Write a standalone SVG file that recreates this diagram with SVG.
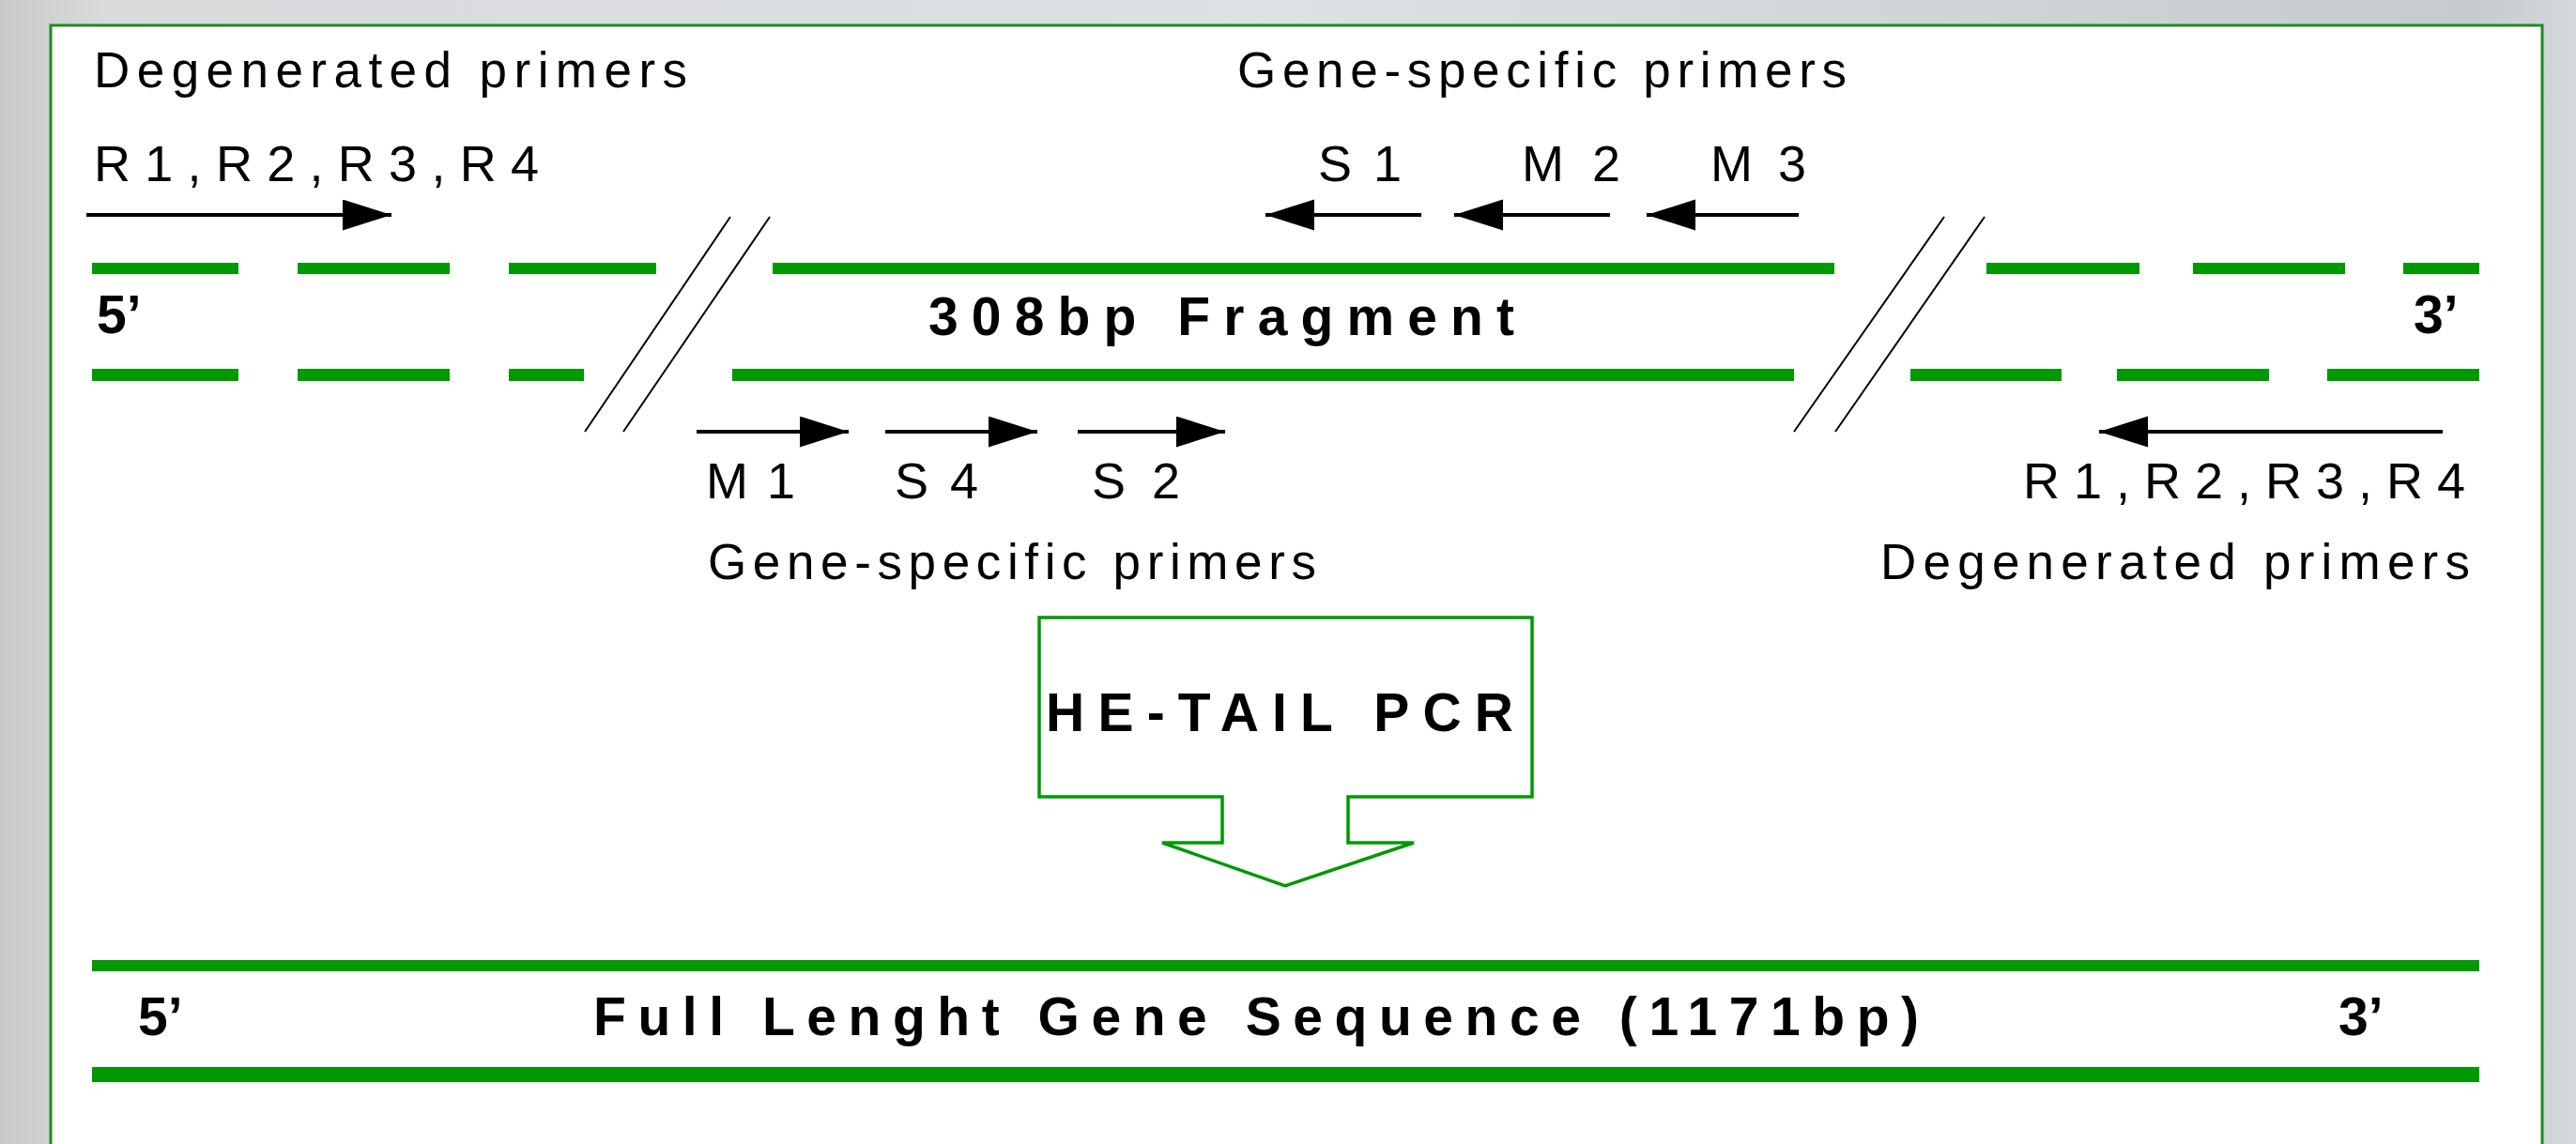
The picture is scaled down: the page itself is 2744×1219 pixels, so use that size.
<svg xmlns="http://www.w3.org/2000/svg" width="2744" height="1219" viewBox="0 0 2744 1219">
<defs>
<linearGradient id="bg" x1="0" y1="0" x2="1" y2="0">
<stop offset="0" stop-color="#c9c9c9"/>
<stop offset="0.04" stop-color="#d8dadc"/>
<stop offset="0.5" stop-color="#dde0e4"/>
<stop offset="0.96" stop-color="#c6cbd0"/>
<stop offset="1" stop-color="#d4d8dc"/>
</linearGradient>
<marker id="ah" markerUnits="userSpaceOnUse" markerWidth="54" markerHeight="34" refX="52" refY="16.5" orient="auto">
<path d="M0,0 L52,16.5 L0,33 Z" fill="#000"/>
</marker>
<style>
.t{font-family:"Liberation Sans",Arial,sans-serif;fill:#000}
.r{font-size:53px}
.l{font-size:54px}
.b{font-size:57px;font-weight:bold}
.g{fill:#009900}
.sl{stroke:#000;stroke-width:2;fill:none}
.pr{stroke:#000;stroke-width:4;fill:none;marker-end:url(#ah)}
</style>
</defs>
<rect x="0" y="0" width="2744" height="1219" fill="url(#bg)"/>
<rect x="54" y="27" width="2654" height="1260" fill="#fff" stroke="#1e8c1e" stroke-width="3"/>

<g id="fragment-strand">
<rect class="g" x="98" y="280" width="156" height="12"/>
<rect class="g" x="317" y="280" width="162" height="12"/>
<rect class="g" x="542" y="280" width="157" height="12"/>
<rect class="g" x="823" y="280" width="1131" height="12"/>
<rect class="g" x="2116" y="280" width="163" height="12"/>
<rect class="g" x="2336" y="280" width="162" height="12"/>
<rect class="g" x="2560" y="280" width="81" height="12"/>
<rect class="g" x="98" y="393" width="156" height="13"/>
<rect class="g" x="317" y="393" width="162" height="13"/>
<rect class="g" x="542" y="393" width="80" height="13"/>
<rect class="g" x="780" y="393" width="1131" height="13"/>
<rect class="g" x="2035" y="393" width="161" height="13"/>
<rect class="g" x="2255" y="393" width="162" height="13"/>
<rect class="g" x="2479" y="393" width="162" height="13"/>
<line class="sl" x1="778" y1="231" x2="623" y2="460"/>
<line class="sl" x1="820" y1="231" x2="664" y2="460"/>
<line class="sl" x1="2071" y1="231" x2="1911" y2="460"/>
<line class="sl" x1="2114" y1="231" x2="1955" y2="460"/>
<text class="t b" x="103" y="355">5’</text>
<text class="t b" x="2571" y="355">3’</text>
<text class="t b" x="989" y="357" textLength="624" lengthAdjust="spacing">308bp Fragment</text>
</g>

<g id="labels-top">
<text class="t r" x="100" y="93" textLength="632" lengthAdjust="spacing">Degenerated primers</text>
<text class="t l" x="100" y="193" textLength="474" lengthAdjust="spacing">R1,R2,R3,R4</text>
<text class="t r" x="1318" y="93" textLength="649" lengthAdjust="spacing">Gene-specific primers</text>
<text class="t l" x="1404" y="193" textLength="89" lengthAdjust="spacing">S1</text>
<text class="t l" x="1621" y="193" textLength="105" lengthAdjust="spacing">M2</text>
<text class="t l" x="1822" y="193" textLength="102" lengthAdjust="spacing">M3</text>
</g>

<g id="labels-bottom">
<text class="t l" x="752" y="531" textLength="95" lengthAdjust="spacing">M1</text>
<text class="t l" x="953" y="531" textLength="89" lengthAdjust="spacing">S4</text>
<text class="t l" x="1163" y="531" textLength="94" lengthAdjust="spacing">S2</text>
<text class="t r" x="754" y="617" textLength="648" lengthAdjust="spacing">Gene-specific primers</text>
<text class="t l" x="2155" y="531" textLength="471" lengthAdjust="spacing">R1,R2,R3,R4</text>
<text class="t r" x="2003" y="617" textLength="628" lengthAdjust="spacing">Degenerated primers</text>
</g>

<g id="primer-arrows">
<line class="pr" x1="92" y1="229" x2="417" y2="229"/>
<line class="pr" x1="1514" y1="229" x2="1348" y2="229"/>
<line class="pr" x1="1715" y1="229" x2="1549" y2="229"/>
<line class="pr" x1="1916" y1="229" x2="1754" y2="229"/>
<line class="pr" x1="742" y1="460" x2="904" y2="460"/>
<line class="pr" x1="943" y1="460" x2="1105" y2="460"/>
<line class="pr" x1="1148" y1="460" x2="1305" y2="460"/>
<line class="pr" x1="2602" y1="460" x2="2236" y2="460"/>
</g>

<g id="he-tail-pcr">
<path d="M1107,658 H1632 V849 H1436 V898 H1506 L1369,944 L1238,898 H1302 V849 H1107 Z" fill="#fff" stroke="#009900" stroke-width="3.5"/>
<text class="t b" x="1114" y="779" textLength="498" lengthAdjust="spacing">HE-TAIL PCR</text>
</g>

<g id="full-length-gene">
<rect class="g" x="98" y="1023" width="2543" height="12"/>
<rect class="g" x="98" y="1137" width="2543" height="16"/>
<text class="t b" x="147" y="1103">5’</text>
<text class="t b" x="632" y="1103" textLength="1412" lengthAdjust="spacing">Full Lenght Gene Sequence (1171bp)</text>
<text class="t b" x="2491" y="1103">3’</text>
</g>
</svg>
